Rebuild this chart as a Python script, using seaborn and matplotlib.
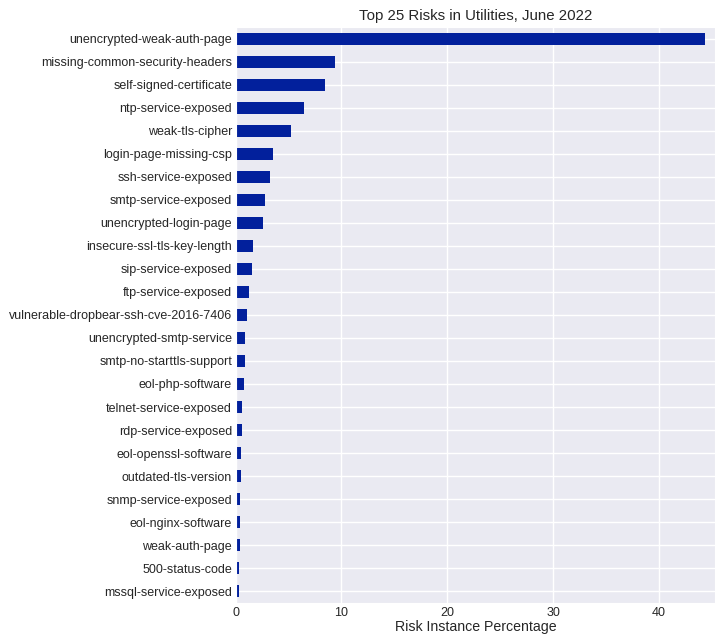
import matplotlib
matplotlib.use("Agg")
import matplotlib.pyplot as plt
import seaborn as sns
import pandas as pd

risks = [
    "unencrypted-weak-auth-page",
    "missing-common-security-headers",
    "self-signed-certificate",
    "ntp-service-exposed",
    "weak-tls-cipher",
    "login-page-missing-csp",
    "ssh-service-exposed",
    "smtp-service-exposed",
    "unencrypted-login-page",
    "insecure-ssl-tls-key-length",
    "sip-service-exposed",
    "ftp-service-exposed",
    "vulnerable-dropbear-ssh-cve-2016-7406",
    "unencrypted-smtp-service",
    "smtp-no-starttls-support",
    "eol-php-software",
    "telnet-service-exposed",
    "rdp-service-exposed",
    "eol-openssl-software",
    "outdated-tls-version",
    "snmp-service-exposed",
    "eol-nginx-software",
    "weak-auth-page",
    "500-status-code",
    "mssql-service-exposed",
]
percentages = [
    44.3, 9.4, 8.4, 6.45, 5.2, 3.5, 3.25, 2.8, 2.55, 1.65, 1.55, 1.25,
    1.05, 0.9, 0.88, 0.8, 0.6, 0.57, 0.49, 0.47, 0.43, 0.42, 0.4, 0.33, 0.32,
]

df = pd.DataFrame({"risk": risks, "pct": percentages})

sns.set_style("darkgrid")
plt.rcParams["font.family"] = ["Liberation Sans", "DejaVu Sans"]

fig, ax = plt.subplots(figsize=(7.16, 6.35), dpi=100)
fig.subplots_adjust(left=0.329, right=0.999, top=0.957, bottom=0.051)

sns.barplot(data=df, x="pct", y="risk", orient="h", color="#02209c",
            saturation=1, width=0.5, linewidth=0, ax=ax)

ax.set_axisbelow(True)
ax.xaxis.grid(True, color="white", linewidth=1)
ax.yaxis.grid(True, color="white", linewidth=1)
ax.set_xlim(0, 45.3)
ax.set_xticks([0, 10, 20, 30, 40])
ax.set_title("Top 25 Risks in Utilities, June 2022", fontsize=10.8, color=".15", pad=5)
ax.set_xlabel("Risk Instance Percentage", fontsize=10.2, color=".15", labelpad=1)
ax.set_ylabel("")
ax.tick_params(axis="both", labelsize=9, colors=".15", length=0)
ax.tick_params(axis="y", pad=2.5)
ax.tick_params(axis="x", pad=3)

fig.savefig("out.png", dpi=100)
